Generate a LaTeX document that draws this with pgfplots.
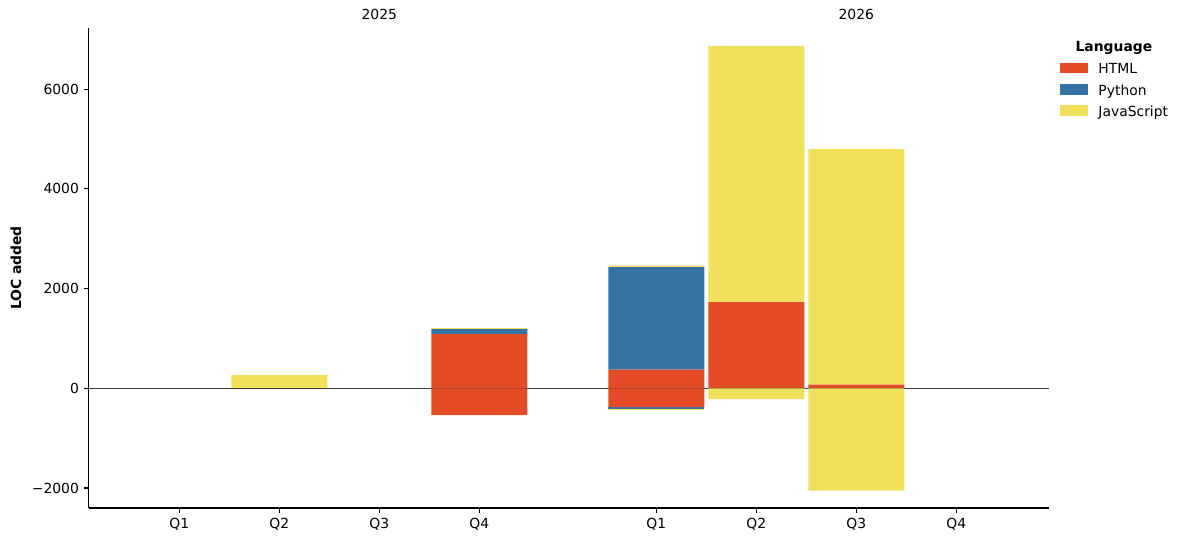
\documentclass[border=0pt]{standalone}
\usepackage{fontspec}
\setmainfont{DejaVu Sans}
\usepackage{pgfplots}
\pgfplotsset{compat=1.18}
\usepackage{pgfplotstable}

\definecolor{cHTML}{HTML}{E34C26}
\definecolor{cPy}{HTML}{3572A5}
\definecolor{cJS}{HTML}{F1E05A}

% positive parts of each stack
\pgfplotstableread{
x html py js
0 0 0 0
1 0 0 267
2 0 0 0
3 1089 100 20
4.77 373 2060 26
5.77 1731 0 5136
6.77 72 0 4728
7.77 0 0 0
}\pos
% negative parts of each stack
\pgfplotstableread{
x html py js
0 0 0 0
1 0 0 0
2 0 0 0
3 -536 0 0
4.77 -375 -40 -20
5.77 0 0 -215
6.77 0 0 -2054
7.77 0 0 0
}\negs

\pgfplotsset{
  base/.style={
    scale only axis, width=691.2pt, height=345.6pt,
    xmin=-0.906, xmax=8.694, ymin=-2401, ymax=7228,
    ybar stacked, bar width=0.96,
    clip mode=individual,
  },
  patch/.style={legend image code/.code={%
    \fill[##1] (0pt,-2.1pt) rectangle (20.5pt,5.4pt);
    \path (27.7pt,0pt);}},
}

\begin{document}
\begin{tikzpicture}
\path[use as bounding box] (-63.86pt,-24.48pt) rectangle (789.34pt,365.76pt);
\begin{axis}[
    base,
    axis x line*=bottom, axis y line*=left,
    axis line style={-, line width=0.8pt},
    tick align=outside, major tick length=3.5pt,
    tick style={black, line width=0.8pt},
    xtick={0,1,2,3,4.77,5.77,6.77,7.77},
    xticklabels={Q1,Q2,Q3,Q4,Q1,Q2,Q3,Q4},
    ytick={-2000,0,2000,4000,6000},
    yticklabels={−2000,0,2000,4000,6000},
    ylabel={\textbf{LOC added}},
    ylabel style={at={(axis description cs:-0.0757,0.5)}, anchor=center},
    legend style={draw=none, fill=none, at={(axis description cs:1.0118,0.934)},
      anchor=north west, inner sep=0pt, outer sep=0pt, row sep=0pt,
      nodes={inner xsep=0pt, inner ysep=2.67pt, text height=7.5pt, text depth=2.5pt}},
    legend cell align=left,
]
\addplot[fill=cHTML, draw=none, patch] table[x=x, y=html] {\pos};
\addlegendentry{HTML}
\addplot[fill=cPy, draw=none, patch] table[x=x, y=py] {\pos};
\addlegendentry{Python}
\addplot[fill=cJS, draw=none, patch] table[x=x, y=js] {\pos};
\addlegendentry{JavaScript}
\node at (axis cs:2,7228) [yshift=9.4pt] {2025};
\node at (axis cs:6.77,7228) [yshift=9.4pt] {2026};
\node[font=\bfseries] at (axis description cs:1.068,0.958) {Language};
\end{axis}
\begin{axis}[base, hide axis]
\addplot[fill=cHTML, draw=none] table[x=x, y=html] {\negs};
\addplot[fill=cPy, draw=none] table[x=x, y=py] {\negs};
\addplot[fill=cJS, draw=none] table[x=x, y=js] {\negs};
\draw[black!75, line width=0.6pt] (axis cs:-0.906,0) -- (axis cs:8.694,0);
\end{axis}
\end{tikzpicture}
\end{document}
